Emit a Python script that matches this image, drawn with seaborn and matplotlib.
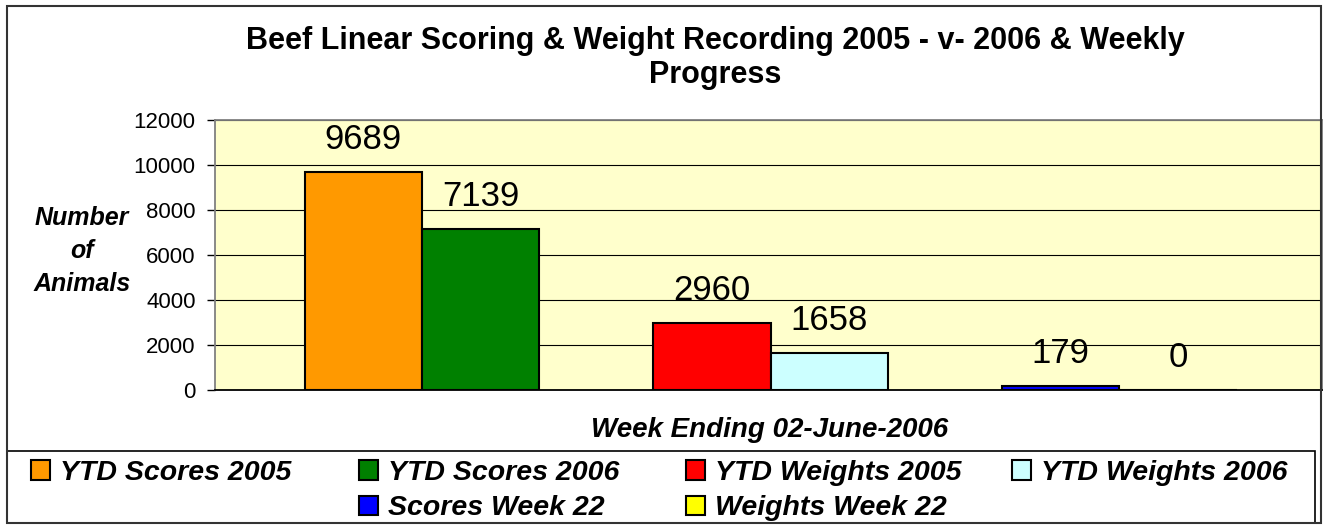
import pandas as pd
import matplotlib
matplotlib.use("Agg")
import matplotlib.pyplot as plt
from matplotlib.patches import Patch, Rectangle
import seaborn as sns

# chart data
series = ["YTD Scores 2005", "YTD Scores 2006", "YTD Weights 2005",
          "YTD Weights 2006", "Scores Week 22", "Weights Week 22"]
values = [9689, 7139, 2960, 1658, 179, 0]
groups = ["Scores", "Scores", "Weights", "Weights", "Week 22", "Week 22"]
slots = ["first", "second", "first", "second", "first", "second"]
colors = ["#FF9900", "#008000", "#FF0000", "#CCFFFF", "#0000FF", "#FFFF00"]
yticks = [0, 2000, 4000, 6000, 8000, 10000, 12000]

sns.set_theme(style="white")
plt.rcParams["font.family"] = ["Liberation Sans", "DejaVu Sans"]
plt.rcParams["text.color"] = "black"
plt.rcParams["axes.labelcolor"] = "black"
plt.rcParams["xtick.color"] = "black"
plt.rcParams["ytick.color"] = "black"

df = pd.DataFrame({"group": groups, "slot": slots, "value": values, "series": series})

fig = plt.figure(figsize=(13.24, 5.25), dpi=100)
ax = fig.add_axes([215 / 1324, 1 - 390 / 525, 1107 / 1324, 270 / 525])
ax.set_facecolor("#FFFFCC")

sns.barplot(data=df, x="group", y="value", hue="slot", order=["Scores", "Weights", "Week 22"],
            hue_order=["first", "second"], width=0.672, gap=0, dodge=True, legend=False,
            edgecolor="black", linewidth=1.5, ax=ax, zorder=3)

# recolor each bar and add its value label
for s, cont in enumerate(ax.containers):
    for g, bar in enumerate(cont):
        i = g * 2 + s
        bar.set_facecolor(colors[i])
        bar.set_edgecolor("black")
        ax.annotate(str(values[i]), (bar.get_x() + bar.get_width() / 2, bar.get_height()),
                    xytext=(0, 16.5), textcoords="offset points", ha="center", va="baseline",
                    fontsize=25, color="black", zorder=5)

ax.set_xlim(-0.593, 2.581)
ax.set_ylim(0, 12000)
ax.set_yticks(yticks)
ax.set_yticklabels([str(t) for t in yticks], fontsize=16)
ax.set_xticks([])
ax.set_xlabel("")
ax.set_ylabel("")
ax.yaxis.grid(True, color="black", linewidth=0.8)
ax.set_axisbelow(True)
ax.tick_params(axis="y", which="major", left=True, length=6, width=1, color="black", pad=8)
for side in ["left", "top", "right"]:
    ax.spines[side].set_color("#808080")
    ax.spines[side].set_linewidth(1.3)
ax.spines["bottom"].set_color("black")
ax.spines["bottom"].set_linewidth(1.3)

fig.text(715 / 1324, 1 - 58 / 525,
         "Beef Linear Scoring & Weight Recording 2005 - v- 2006 & Weekly\nProgress",
         ha="center", va="center", fontsize=22, fontweight="bold", linespacing=1.15)
fig.text(82 / 1324, 1 - 251 / 525, "Number\nof\nAnimals", ha="center", va="center",
         fontsize=18, fontweight="bold", fontstyle="italic", linespacing=1.45)
fig.text(770 / 1324, 1 - 430 / 525, "Week Ending 02-June-2006", ha="center", va="center",
         fontsize=20, fontweight="bold", fontstyle="italic")

# legend: equal-width columns, second row sits under columns 2 and 3
handles = [Patch(facecolor=c, edgecolor="black", linewidth=1.5) for c in colors]
legend_cols = [[0], [1, 4], [2, 5], [3]]
col_left = [31, 359, 686, 1012]
for col, xl in zip(legend_cols, col_left):
    leg = fig.legend([handles[i] for i in col], [series[i] for i in col],
                     loc="upper left", bbox_to_anchor=(xl / 1324, 1 - 460 / 525), frameon=False,
                     prop={"weight": "bold", "style": "italic", "size": 20.5},
                     handlelength=0.68, handleheight=0.68, handletextpad=0.35,
                     labelspacing=0.33, borderpad=0, borderaxespad=0)

fig.add_artist(Rectangle((7 / 1324, 2 / 525), 1308 / 1324, 72 / 525, transform=fig.transFigure,
                         fill=False, edgecolor="black", linewidth=1.2))
fig.add_artist(Rectangle((7 / 1324, 2 / 525), 1314 / 1324, 517 / 525, transform=fig.transFigure,
                         fill=False, edgecolor="#333333", linewidth=1.5))

fig.savefig("out.png", dpi=100)
